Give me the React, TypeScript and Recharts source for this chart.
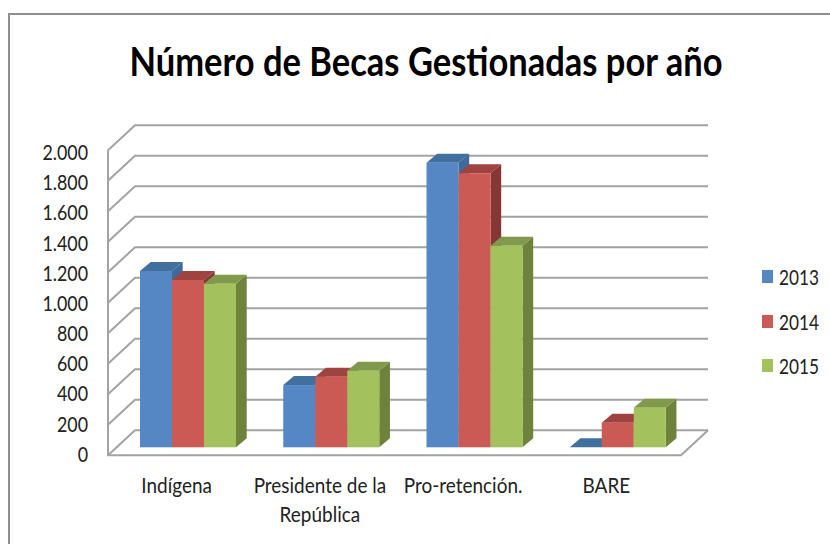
import { Bar, BarChart, CartesianGrid, Legend, XAxis, YAxis } from "recharts";

const categories = ["Indígena", "Presidente de la República", "Pro-retención.", "BARE"];
const values2013 = [1156, 408, 1866, 0];
const values2014 = [1097, 463, 1797, 161];
const values2015 = [1073, 502, 1322, 260];
const yTicks = [0, 200, 400, 600, 800, 1000, 1200, 1400, 1600, 1800, 2000];

const data = categories.map((name, i) => ({
  name,
  y2013: values2013[i],
  y2014: values2014[i],
  y2015: values2015[i],
}));

const FONT = "Lato, sans-serif";
const TEXT = "#222";
const GRID = "#a3a3a3";
const WIDTH = 830;
const HEIGHT = 544;
const PLOT_LEFT = 116;
const PLOT_RIGHT = 689;
const PLOT_TOP = 142.3;
const PLOT_BOTTOM = 447.3;

// shades for the top and side faces of each bar
const shades: Record<string, { top: string; side: string }> = {
  "#5487c4": { top: "#41709f", side: "#3f6a9c" },
  "#cb5a54": { top: "#9f4340", side: "#853735" },
  "#a3c15d": { top: "#80994a", side: "#6f823c" },
};

function Bar3D(props: any) {
  const { x, y, width, height, fill } = props;
  const dx = 10.7;
  const dy = -9;
  const s = shades[fill];
  const top = `${x},${y} ${x + dx},${y + dy} ${x + width + dx},${y + dy} ${x + width},${y}`;
  const side = `${x + width},${y} ${x + width + dx},${y + dy} ${x + width + dx},${y + height + dy} ${x + width},${y + height}`;
  return (
    <g>
      <polygon points={side} fill={s.side} />
      <polygon points={top} fill={s.top} />
      <rect x={x} y={y} width={width} height={height} fill={fill} />
    </g>
  );
}

// each gridline wraps from the front of the wall to the back plane
function GridLine(props: any) {
  const { x1, x2, y1, key } = props;
  const line = `${x1 - 8},${y1 + 8} ${x1 + 19},${y1 - 17} ${x2 + 19},${y1 - 17}`;
  const isFloor = Math.abs(y1 - PLOT_BOTTOM) < 1;
  return (
    <g key={key ?? y1}>
      <polyline points={line} fill="none" stroke={GRID} strokeWidth={2} />
      {isFloor && (
        <polyline
          points={`${x1 - 8},${PLOT_TOP + 8} ${x1 - 8},${y1 + 8} ${x2 - 8},${y1 + 8} ${x2 + 19},${y1 - 17}`}
          fill="none"
          stroke={GRID}
          strokeWidth={2}
        />
      )}
    </g>
  );
}

function YTick({ y, payload }: any) {
  const label = String(payload.value).replace(/\B(?=(\d{3})+$)/g, ".");
  const baseline = y + 14.4 + (PLOT_BOTTOM - y) * 0.0108;
  return (
    <text
      transform={`translate(88 ${baseline}) scale(0.87 1)`}
      textAnchor="end"
      fontFamily={FONT}
      fontSize={20.5}
      fill={TEXT}
    >
      {label}
    </text>
  );
}

function XTick({ x, payload }: any) {
  const lines: string[] =
    payload.value.length > 20
      ? [payload.value.split(" ").slice(0, 3).join(" "), payload.value.split(" ").slice(3).join(" ")]
      : [payload.value];
  return (
    <text
      transform={`translate(${x - 11} 493) scale(0.925 1)`}
      textAnchor="middle"
      fontFamily={FONT}
      fontSize={20.5}
      fill={TEXT}
    >
      {lines.map((l, i) => (
        <tspan key={l} x={0} y={i * 29}>
          {l}
        </tspan>
      ))}
    </text>
  );
}

function LegendBox({ payload }: any) {
  return (
    <div style={{ position: "relative", width: WIDTH, height: 0 }}>
      {payload.map((p: any, i: number) => (
        <div key={p.value}>
          <div
            style={{
              position: "absolute",
              left: 762,
              top: 270 + i * 44.5,
              width: 11,
              height: 13,
              background: p.color,
            }}
          />
          <div
            style={{
              position: "absolute",
              left: 779,
              top: 264 + i * 44.5,
              fontFamily: FONT,
              fontSize: 20.5,
              lineHeight: "26px",
              color: TEXT,
              transform: "scaleX(0.84)",
              transformOrigin: "left",
            }}
          >
            {p.value}
          </div>
        </div>
      ))}
    </div>
  );
}

export default function App() {
  return (
    <div style={{ position: "absolute", left: 0, top: 0, width: WIDTH, height: HEIGHT, overflow: "hidden", background: "#fff" }}>
      <div
        style={{
          position: "absolute",
          left: 8,
          top: 13,
          right: 0,
          bottom: 0,
          borderTop: "2px solid #8f8f8f",
          borderLeft: "2px solid #8f8f8f",
        }}
      />
      <div
        style={{
          position: "absolute",
          left: 0,
          width: 852,
          top: 35.5,
          textAlign: "center",
          fontFamily: FONT,
          fontWeight: 700,
          fontSize: 40,
          lineHeight: "50px",
          color: "#000",
          transform: "scaleX(0.862)",
        }}
      >
        Número de Becas Gestionadas por año
      </div>
      <BarChart
        width={WIDTH}
        height={HEIGHT}
        data={data}
        barGap={0}
        barCategoryGap={24}
        margin={{ top: PLOT_TOP, right: WIDTH - PLOT_RIGHT, bottom: 0, left: 0 }}
        style={{ position: "absolute", left: 0, top: 0 }}
      >
        <CartesianGrid horizontal={GridLine} vertical={false} />
        <XAxis
          dataKey="name"
          height={HEIGHT - PLOT_BOTTOM}
          axisLine={false}
          tickLine={false}
          interval={0}
          tick={XTick}
        />
        <YAxis
          width={PLOT_LEFT}
          domain={[0, 2000]}
          ticks={yTicks}
          interval={0}
          axisLine={false}
          tickLine={false}
          tick={YTick}
        />
        <Legend
          layout="vertical"
          align="center"
          verticalAlign="middle"
          wrapperStyle={{ left: 0, top: 0, width: WIDTH, height: 0 }}
          content={LegendBox}
        />
        <Bar dataKey="y2013" name="2013" fill="#5487c4" shape={Bar3D} isAnimationActive={false} />
        <Bar dataKey="y2014" name="2014" fill="#cb5a54" shape={Bar3D} isAnimationActive={false} />
        <Bar dataKey="y2015" name="2015" fill="#a3c15d" shape={Bar3D} isAnimationActive={false} />
      </BarChart>
    </div>
  );
}
